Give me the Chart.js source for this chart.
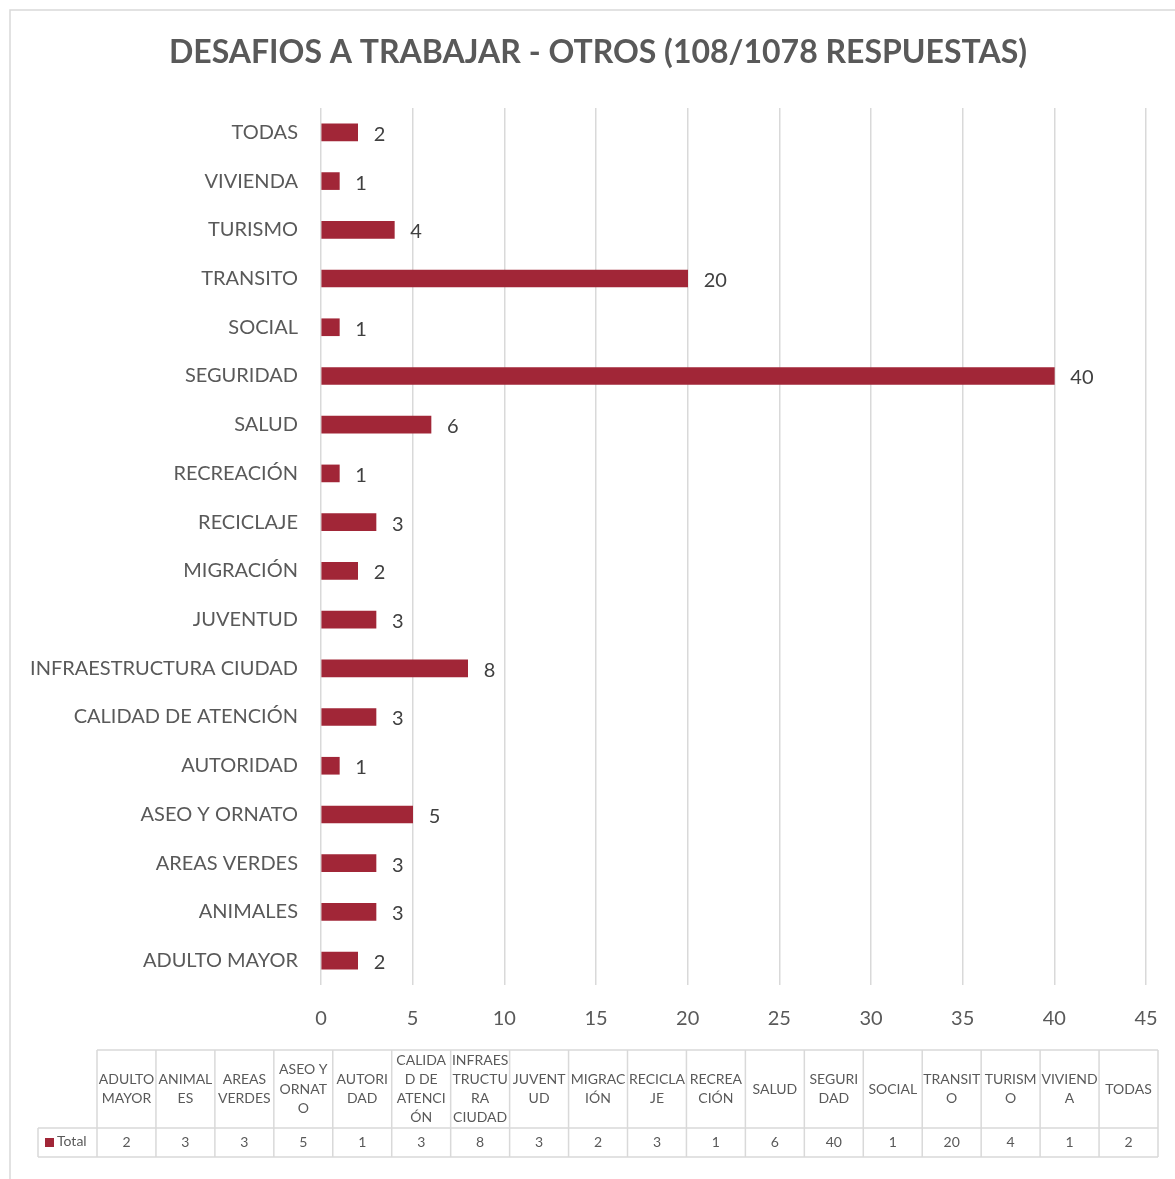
<!DOCTYPE html>
<html>
<head>
<meta charset="utf-8">
<script src="https://cdn.jsdelivr.net/npm/chart.js@4"></script>
<style>
  body { margin: 0; background: #fff; }
  #wrap { width: 1175px; height: 1179px; }
</style>
</head>
<body>
<div id="wrap"><canvas id="myChart" width="1175" height="1179"></canvas></div>
<script>
  // data (table order, bottom to top on the chart)
  const categories = ['ADULTO MAYOR', 'ANIMALES', 'AREAS VERDES', 'ASEO Y ORNATO', 'AUTORIDAD', 'CALIDAD DE ATENCIÓN',
    'INFRAESTRUCTURA CIUDAD', 'JUVENTUD', 'MIGRACIÓN', 'RECICLAJE', 'RECREACIÓN', 'SALUD', 'SEGURIDAD', 'SOCIAL',
    'TRANSITO', 'TURISMO', 'VIVIENDA', 'TODAS'];
  const totals = [2, 3, 3, 5, 1, 3, 8, 3, 2, 3, 1, 6, 40, 1, 20, 4, 1, 2];
  // header text of the data table, wrapped the way it shows up
  const tableHeaders = [['ADULTO', 'MAYOR'], ['ANIMAL', 'ES'], ['AREAS', 'VERDES'], ['ASEO Y', 'ORNAT', 'O'],
    ['AUTORI', 'DAD'], ['CALIDA', 'D DE', 'ATENCI', 'ÓN'], ['INFRAES', 'TRUCTU', 'RA', 'CIUDAD'], ['JUVENT', 'UD'],
    ['MIGRAC', 'IÓN'], ['RECICLA', 'JE'], ['RECREA', 'CIÓN'], ['SALUD'], ['SEGURI', 'DAD'], ['SOCIAL'],
    ['TRANSIT', 'O'], ['TURISM', 'O'], ['VIVIEND', 'A'], ['TODAS']];
  const seriesName = 'Total';
  const titleText = 'DESAFIOS A TRABAJAR - OTROS (108/1078 RESPUESTAS)';

  const barColor = '#A12637';
  const textGray = '#595959';
  const lineGray = '#d9d9d9';
  const fontFamily = 'Lato, "Open Sans", sans-serif';

  // white background + thin frame round the chart, title on top
  const frame = {
    id: 'frame',
    beforeDraw(chart) {
      const c = chart.ctx;
      c.save();
      c.fillStyle = '#fff';
      c.fillRect(0, 0, chart.width, chart.height);
      c.strokeStyle = lineGray;
      c.lineWidth = 1.5;
      c.strokeRect(10, 10, chart.width + 10, chart.height + 10);
      c.restore();
    },
    afterDraw(chart) {
      const c = chart.ctx;
      c.save();
      c.font = 'bold 32px ' + fontFamily;
      c.fillStyle = textGray;
      c.textAlign = 'center';
      c.textBaseline = 'middle';
      c.fillText(titleText, 598, 53);
      c.restore();
    }
  };

  // value next to each bar
  const barValues = {
    id: 'barValues',
    afterDatasetsDraw(chart) {
      const c = chart.ctx;
      const meta = chart.getDatasetMeta(0);
      c.save();
      c.font = '20px ' + fontFamily;
      c.fillStyle = '#404040';
      c.textAlign = 'left';
      c.textBaseline = 'middle';
      meta.data.forEach(function (bar, i) {
        c.fillText(String(totals[i]), bar.x + 16, bar.y + 2);
      });
      c.restore();
    }
  };

  // excel style data table under the axis
  const dataTable = {
    id: 'dataTable',
    afterDraw(chart) {
      const c = chart.ctx;
      const left = 97, right = 1158, legendLeft = 38;
      const top = 1050, mid = 1128, bottom = 1157;
      const colW = (right - left) / categories.length;
      c.save();
      c.strokeStyle = lineGray;
      c.lineWidth = 1.5;
      // horizontal lines
      c.beginPath();
      c.moveTo(left, top); c.lineTo(right, top);
      c.moveTo(legendLeft, mid); c.lineTo(right, mid);
      c.moveTo(legendLeft, bottom); c.lineTo(right, bottom);
      // vertical lines
      c.moveTo(legendLeft, mid); c.lineTo(legendLeft, bottom);
      for (let i = 0; i <= categories.length; i++) {
        const x = left + i * colW;
        c.moveTo(x, top); c.lineTo(x, bottom);
      }
      c.stroke();

      c.font = '14px ' + fontFamily;
      c.fillStyle = textGray;
      c.textAlign = 'center';
      c.textBaseline = 'middle';
      const lh = 19.3;
      tableHeaders.forEach(function (lines, i) {
        const cx = left + (i + 0.5) * colW;
        const y0 = (top + mid) / 2 - (lines.length - 1) * lh / 2;
        lines.forEach(function (t, j) {
          c.fillText(t, cx, y0 + j * lh);
        });
        c.fillText(String(totals[i]), cx, (mid + bottom) / 2);
      });

      // legend key
      c.fillStyle = barColor;
      c.fillRect(45, 1138, 9, 9);
      c.fillStyle = textGray;
      c.textAlign = 'left';
      c.fillText(seriesName, 57, (mid + bottom) / 2 - 1);
      c.restore();
    }
  };

  new Chart('myChart', {
    type: 'bar',
    data: {
      labels: categories,
      datasets: [{
        label: seriesName,
        data: totals,
        backgroundColor: barColor,
        barThickness: 17
      }]
    },
    plugins: [frame, barValues, dataTable],
    options: {
      indexAxis: 'y',
      responsive: false,
      animation: false,
      layout: {
        padding: { left: 10, right: 29, top: 108, bottom: 139 }
      },
      plugins: {
        legend: { display: false },
        tooltip: { enabled: false },
        title: { display: false }
      },
      scales: {
        x: {
          min: 0,
          max: 45,
          ticks: {
            stepSize: 5,
            color: textGray,
            padding: 22,
            font: { family: fontFamily, size: 20 }
          },
          grid: {
            color: lineGray,
            lineWidth: 1.5,
            drawTicks: false
          },
          border: { display: false },
          afterFit: function (scale) {
            scale.height = 55;
            scale.paddingLeft = 11;
            scale.paddingRight = 11;
          }
        },
        y: {
          reverse: true,
          ticks: {
            color: textGray,
            padding: 23,
            font: { family: fontFamily, size: 20 }
          },
          grid: { display: false, drawTicks: false },
          border: { display: false },
          afterFit: function (scale) { scale.width = 311; }
        }
      }
    }
  });
</script>
</body>
</html>
